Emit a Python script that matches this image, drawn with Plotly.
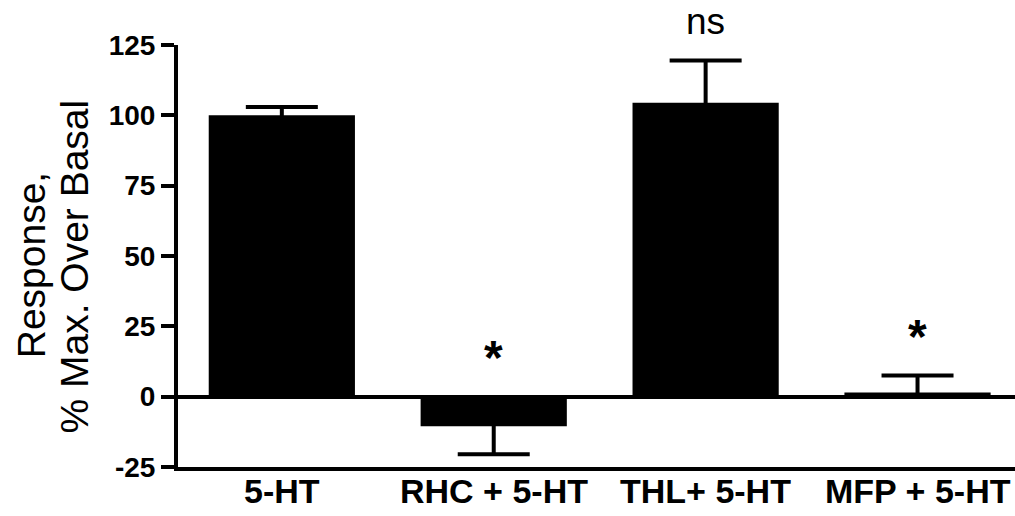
import plotly.graph_objects as go

# Treatment groups and their mean responses (% of max. over basal)
categories = ["5-HT", "RHC + 5-HT", "THL+ 5-HT", "MFP + 5-HT"]
responses = [100, -10.5, 104.5, 1.5]
sem = [3, 10, 15, 6]
significance = ["", "*", "ns", "*"]
y_ticks = [-25, 0, 25, 50, 75, 100, 125]

FONT = "Liberation Sans, Arial, Helvetica, sans-serif"

x_pos = list(range(len(categories)))

fig = go.Figure()
fig.add_trace(go.Bar(
    x=x_pos,
    y=responses,
    width=0.69,
    marker=dict(color="black", line=dict(width=0)),
    showlegend=False,
    hoverinfo="skip",
))

# One-sided error bars: start slightly inside each bar so the lower cap is hidden
inset = 1.5
sign = [1 if v >= 0 else -1 for v in responses]
err_base = [v - s * inset for v, s in zip(responses, sign)]
fig.add_trace(go.Scatter(
    x=x_pos,
    y=err_base,
    mode="markers",
    marker=dict(size=0.1, color="rgba(0,0,0,0)"),
    error_y=dict(
        type="data",
        symmetric=False,
        array=[e + inset if s > 0 else 0 for e, s in zip(sem, sign)],
        arrayminus=[e + inset if s < 0 else 0 for e, s in zip(sem, sign)],
        color="black",
        thickness=4,
        width=36,
    ),
    showlegend=False,
    hoverinfo="skip",
))

# significance marks above each group
for xi, v, e, s in zip(x_pos, responses, sem, significance):
    if not s:
        continue
    if s == "ns":
        fig.add_annotation(x=xi, y=v + e, text=s, showarrow=False,
                           yanchor="bottom", yshift=16,
                           font=dict(family=FONT, size=37, color="black"))
    else:
        top = max(v, 0) + (e if v >= 0 else 0)
        fig.add_annotation(x=xi, y=top, text="<b>*</b>", showarrow=False,
                           yanchor="bottom", yshift=11,
                           font=dict(family=FONT, size=48, color="black"))

# category labels under the axis
for xi, c in zip(x_pos, categories):
    fig.add_annotation(x=xi, xref="x", y=0, yref="paper", text=f"<b>{c}</b>",
                       showarrow=False, xanchor="center", yanchor="top",
                       yshift=-3,
                       font=dict(family=FONT, size=34, color="black"))

# y-axis title, two lines
fig.add_annotation(xref="paper", yref="paper", x=0, y=0.478, xshift=-147,
                   text="Response,", textangle=-90, showarrow=False,
                   xanchor="center", yanchor="middle",
                   font=dict(family=FONT, size=39, color="black"))
fig.add_annotation(xref="paper", yref="paper", x=0, y=0.475, xshift=-103,
                   text="% Max. Over Basal", textangle=-90, showarrow=False,
                   xanchor="center", yanchor="middle",
                   font=dict(family=FONT, size=39, color="black"))

fig.update_layout(
    width=1015,
    height=516,
    margin=dict(l=178, r=0, t=45, b=49),
    paper_bgcolor="white",
    plot_bgcolor="white",
    font=dict(family=FONT, color="black"),
    xaxis=dict(
        range=[-0.49, 3.46],
        showticklabels=False,
        showline=True,
        linecolor="black",
        linewidth=4,
        ticks="",
        showgrid=False,
        zeroline=False,
        automargin=False,
    ),
    yaxis=dict(
        range=[-25, 125],
        tickmode="array",
        tickvals=y_ticks,
        ticktext=[f"<b>{t}</b>" for t in y_ticks],
        tickfont=dict(family=FONT, size=28, color="black"),
        showline=True,
        linecolor="black",
        linewidth=4,
        ticks="outside",
        ticklen=13,
        tickwidth=4,
        tickcolor="black",
        showgrid=False,
        zeroline=True,
        zerolinecolor="black",
        zerolinewidth=4,
        automargin=False,
    ),
)

fig.write_html("out.html")
